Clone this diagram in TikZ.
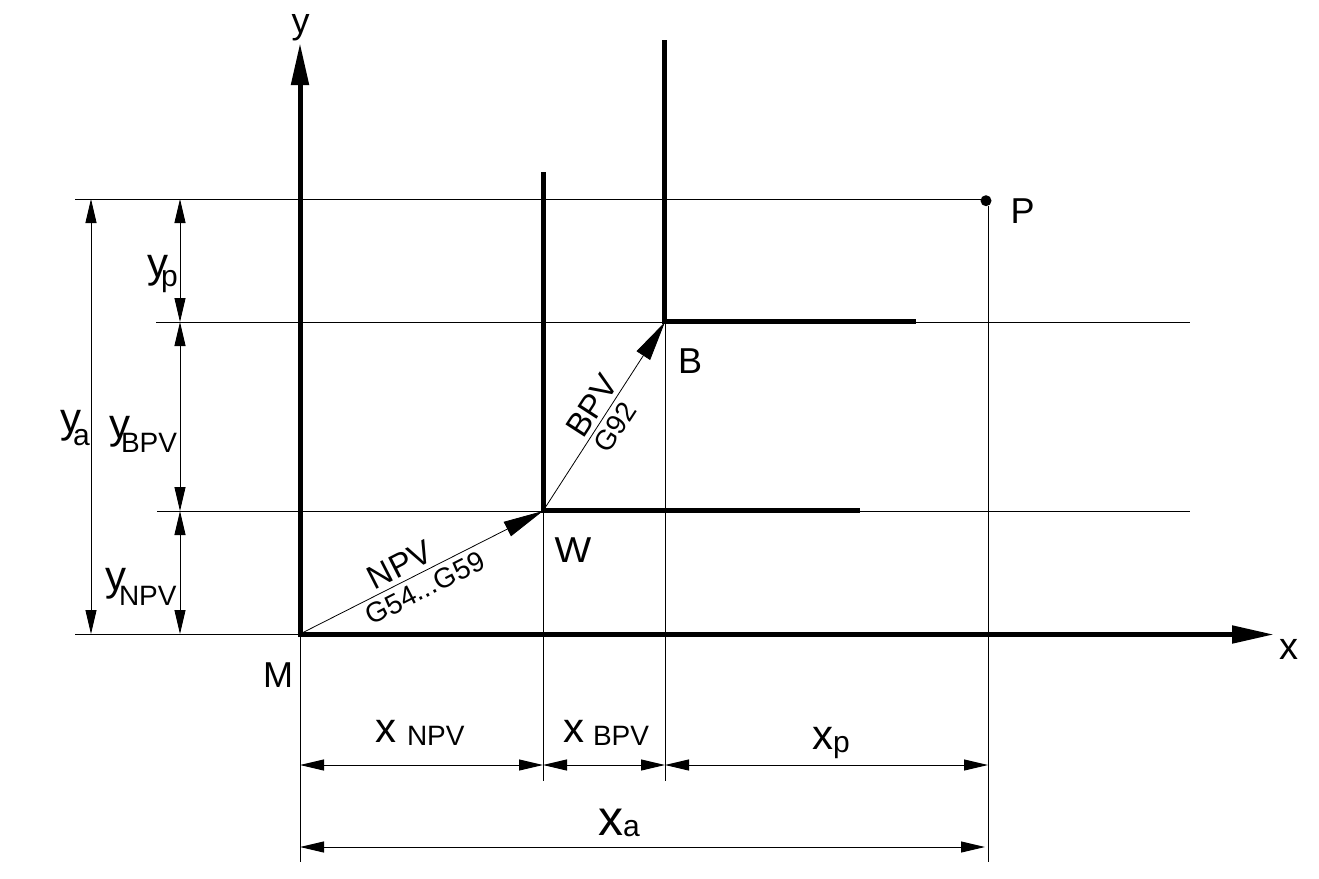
\documentclass[tikz,border=0pt]{standalone}
\usepackage{fontspec}
\setmainfont{Liberation Sans}
\usetikzlibrary{arrows.meta}
\newcommand{\fsz}[2]{{\fontsize{#1pt}{#1pt}\selectfont #2}}
% [subscript size], main letter, kern, drop, subscript
\newcommand{\dimlab}[5][28]{\fsz{42}{#2}\kern#3pt\raisebox{-#4pt}{\fsz{#1}{#5}}}
\tikzset{
  thin line/.style={line width=1pt,black},
  heavy/.style={line width=5pt,black,line cap=butt},
  dimtip/.tip={Triangle[length=24pt,width=11pt,sep=0pt]},
  dim/.style={line width=1pt,black,{dimtip}-{dimtip}},
  vec/.style={line width=0.8pt,black,-{Triangle[length=40pt,width=16pt]}},
  axis/.style={heavy,-{Triangle[length=42pt,width=17pt]}},
  lab/.style={inner sep=0pt,outer sep=0pt,anchor=base west,font=\fontsize{36pt}{36pt}\selectfont},
  veclab/.style={inner sep=0pt,outer sep=0pt,font=\fontsize{33pt}{33pt}\selectfont},
  veclabs/.style={inner sep=0pt,outer sep=0pt,font=\fontsize{28pt}{28pt}\selectfont},
}
\begin{document}
\begin{tikzpicture}[x=1pt,y=-1pt]
\useasboundingbox (0,0) rectangle (1319,878);
% key points
\coordinate (M) at (300,634);
\coordinate (W) at (543,511);
\coordinate (B) at (665,322);
\node[circle,fill=black,inner sep=0pt,minimum size=11pt] (P) at (986,200.7) {};
\coordinate (Xend) at (1274,634.5);
\coordinate (Yend) at (300,43);
\coordinate (Wtop) at (543.5,172);
\coordinate (Wright) at (860,510.5);
\coordinate (Btop) at (664.7,40);
\coordinate (Bright) at (916,321.5);
% extension lines
\coordinate (e1a) at (75,199); \coordinate (e1b) at (982,199);
\coordinate (e2a) at (156,322); \coordinate (e2b) at (1190,322);
\coordinate (e3a) at (157,511); \coordinate (e3b) at (1190,511);
\coordinate (e4a) at (75,634);
\coordinate (v1) at (300,862);
\coordinate (v2a) at (543,511); \coordinate (v2) at (543,781);
\coordinate (v3a) at (665,322); \coordinate (v3) at (665,781);
\coordinate (v4a) at (988,206); \coordinate (v4) at (988,862);
\draw[thin line] (e1a)--(e1b);
\draw[thin line] (e2a)--(e2b);
\draw[thin line] (e3a)--(e3b);
\draw[thin line] (e4a)--(M);
\draw[thin line] (M)--(v1);
\draw[thin line] (v2a)--(v2);
\draw[thin line] (v3a)--(v3);
\draw[thin line] (v4a)--(v4);
% heavy axes
\draw[axis] (297.5,634.5)--(Xend);
\draw[axis] (300,637)--(Yend);
\draw[heavy] (Wtop)--(543.5,513);
\draw[heavy] (541,510.5)--(Wright);
\draw[heavy] (Btop)--(664.7,324);
\draw[heavy] (662.2,321.5)--(Bright);
% vectors
\draw[vec] (M)--(W);
\draw[vec] (W)--(B);
% vertical dims
\coordinate (d1t) at (91,199); \coordinate (d1b) at (91,634);
\coordinate (d2t) at (180,199); \coordinate (d2m) at (180,322);
\coordinate (d2n) at (180,511); \coordinate (d2b) at (180,634);
\draw[dim] (d1t)--(d1b);
\draw[dim] (d2t)--(d2m);
\draw[dim] (d2m)--(d2n);
\draw[dim] (d2n)--(d2b);
% horizontal dims
\coordinate (h1) at (300,765); \coordinate (h2) at (543,765);
\coordinate (h3) at (665,765); \coordinate (h4) at (988,765);
\coordinate (h5) at (300,847); \coordinate (h6) at (985,847);
\draw[dim] (h1)--(h2);
\draw[dim] (h2)--(h3);
\draw[dim] (h3)--(h4);
\draw[dim] (h5)--(h6);
% point labels
\node[lab] (ly) at (291.5,33) {y};
\node[lab,font=\fontsize{38pt}{38pt}\selectfont] (lx) at (1279,659) {x};
\node[lab] (lP) at (1010.5,223) {P};
\node[lab] (lB) at (678,373) {B};
\node[lab,xscale=1.08] (lW) at (554.5,562) {W};
\node[lab] (lM) at (263,687) {M};
% vector labels
\node[veclab,rotate=27] (npv) at (400,565) {NPV};
\node[veclabs,rotate=27] (g54) at (425,588) {G54...G59};
\node[veclab,rotate=57] (bpv) at (592,406) {BPV};
\node[veclabs,rotate=57] (g92) at (615,427) {G92};
% dimension labels
\node[lab] (ya) at (60,432) {\dimlab[30]{y}{-8}{13}{a}};
\node[lab] (yb) at (109,438) {\dimlab{y}{-9}{14}{BPV}};
\node[lab] (yn) at (105,590) {\dimlab{y}{-7}{15}{NPV}};
\node[lab] (yp) at (147,277) {\dimlab[30]{y}{-7}{9}{p}};
\node[lab] (xn) at (375,742) {\dimlab{x}{11}{3}{NPV}};
\node[lab] (xb) at (563,742) {\dimlab{x}{9}{3}{BPV}};
\node[lab] (xp) at (812,749) {\dimlab[30]{x}{0}{3}{p}};
\node[lab] (xa) at (598,835) {\fsz{50}{x}\kern0pt\raisebox{-1pt}{\fsz{30}{a}}};
\end{tikzpicture}
\end{document}
